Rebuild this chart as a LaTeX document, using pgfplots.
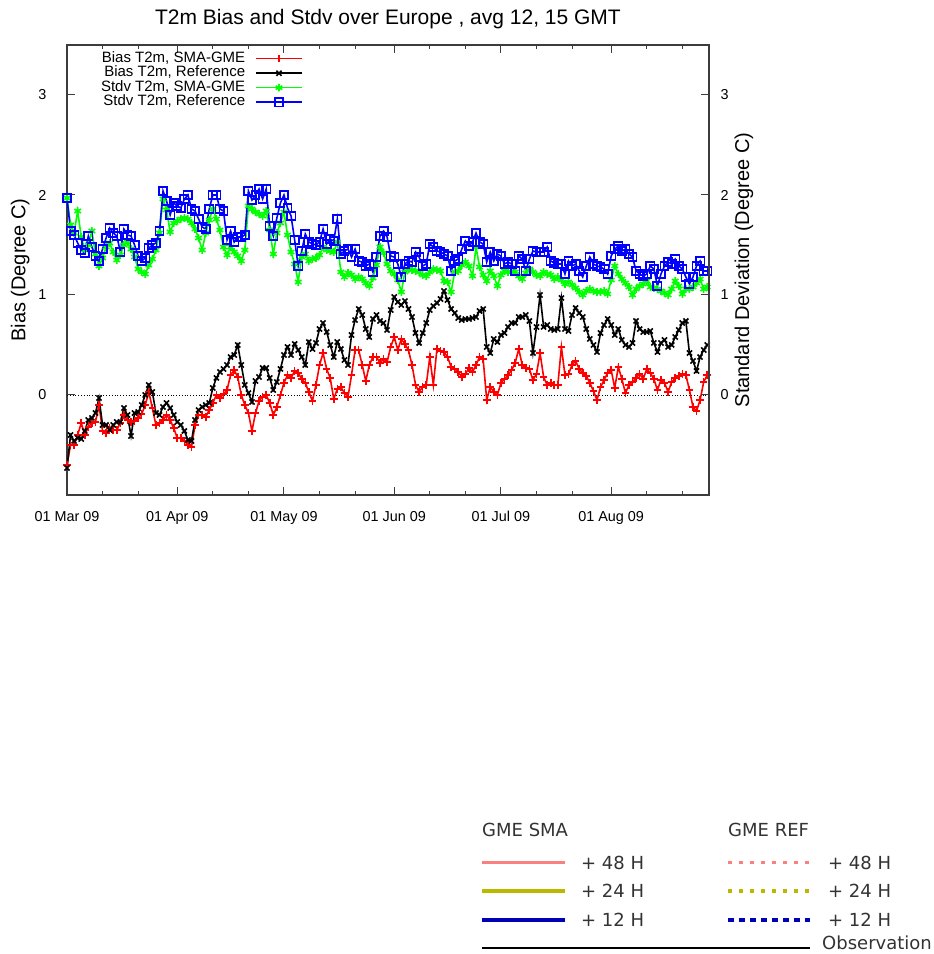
\documentclass[border=0pt]{standalone}
\usepackage{fontspec}
\setmainfont{Liberation Sans}
\newfontfamily\dejavu{DejaVu Sans}
\usepackage{pgfplots}
\usepackage{pgfplotstable}
\pgfplotsset{compat=1.18}
\definecolor{salmon}{RGB}{250,128,128}
\definecolor{olive2}{RGB}{185,185,0}
\definecolor{navy2}{RGB}{0,0,180}
\definecolor{axgray}{RGB}{60,60,60}

\pgfplotstableread{
d br bb sg sb
0 -0.70 -0.73 1.97 1.97
1 -0.50 -0.40 1.70 1.64
2 -0.50 -0.46 1.62 1.60
3 -0.40 -0.43 1.84 1.52
4 -0.28 -0.44 1.58 1.45
5 -0.40 -0.36 1.45 1.42
6 -0.32 -0.25 1.50 1.59
7 -0.28 -0.23 1.64 1.48
8 -0.27 -0.18 1.41 1.39
9 -0.10 -0.03 1.29 1.34
10 -0.36 -0.30 1.37 1.46
11 -0.38 -0.30 1.48 1.57
12 -0.33 -0.35 1.52 1.67
13 -0.35 -0.30 1.43 1.62
14 -0.35 -0.27 1.35 1.59
15 -0.28 -0.27 1.40 1.43
16 -0.20 -0.13 1.50 1.66
17 -0.25 -0.20 1.53 1.60
18 -0.27 -0.41 1.46 1.59
19 -0.26 -0.18 1.38 1.50
20 -0.23 -0.17 1.26 1.39
21 -0.19 -0.10 1.23 1.34
22 -0.10 0.00 1.21 1.37
23 0.03 0.10 1.30 1.47
24 -0.13 0.03 1.36 1.50
25 -0.30 -0.18 1.45 1.52
26 -0.28 -0.20 1.62 1.64
27 -0.25 -0.12 1.96 2.04
28 -0.20 -0.08 1.85 1.94
29 -0.25 -0.13 1.63 1.80
30 -0.33 -0.20 1.72 1.92
31 -0.43 -0.27 1.74 1.89
32 -0.43 -0.30 1.76 1.87
33 -0.46 -0.36 1.77 1.96
34 -0.50 -0.45 1.76 2.00
35 -0.52 -0.46 1.72 1.86
36 -0.30 -0.25 1.66 1.84
37 -0.20 -0.15 1.57 1.76
38 -0.20 -0.12 1.45 1.68
39 -0.22 -0.10 1.62 1.66
40 -0.15 -0.08 1.75 1.86
41 -0.08 0.07 1.86 2.00
42 0.00 0.17 1.76 2.00
43 -0.03 0.23 1.65 1.86
44 0.01 0.26 1.48 1.84
45 0.05 0.30 1.40 1.55
46 0.20 0.38 1.48 1.64
47 0.25 0.40 1.43 1.53
48 0.18 0.50 1.39 1.58
49 0.00 0.30 1.34 1.58
50 -0.10 0.10 1.45 1.60
51 -0.18 0.02 1.89 2.04
52 -0.36 -0.07 1.86 1.95
53 -0.18 0.14 1.83 2.00
54 -0.06 0.18 1.81 2.06
55 -0.02 0.27 1.79 1.96
56 0.00 0.27 1.84 2.06
57 -0.08 0.17 1.65 1.69
58 -0.20 0.05 1.41 1.59
59 -0.12 0.13 1.62 1.77
60 0.00 0.26 1.72 1.92
61 0.12 0.40 1.83 2.00
62 0.20 0.48 1.60 1.87
63 0.17 0.40 1.43 1.79
64 0.24 0.51 1.31 1.55
65 0.22 0.45 1.13 1.29
66 0.16 0.38 1.38 1.44
67 0.12 0.30 1.41 1.61
68 0.03 0.53 1.34 1.53
69 -0.06 0.46 1.36 1.51
70 0.10 0.52 1.37 1.50
71 0.30 0.66 1.40 1.53
72 0.42 0.72 1.48 1.66
73 0.26 0.63 1.45 1.51
74 0.17 0.50 1.44 1.56
75 -0.04 0.38 1.43 1.54
76 0.06 0.53 1.53 1.76
77 0.08 0.46 1.23 1.41
78 0.02 0.35 1.18 1.44
79 -0.02 0.30 1.22 1.46
80 0.20 0.60 1.20 1.38
81 0.45 0.75 1.16 1.46
82 0.45 0.86 1.18 1.34
83 0.30 0.80 1.16 1.33
84 0.14 0.66 1.12 1.29
85 0.30 0.58 1.09 1.31
86 0.38 0.76 1.17 1.23
87 0.38 0.80 1.30 1.38
88 0.32 0.74 1.48 1.59
89 0.36 0.72 1.42 1.64
90 0.33 0.65 1.31 1.58
91 0.48 0.85 1.24 1.39
92 0.58 0.98 1.21 1.38
93 0.45 0.93 1.15 1.31
94 0.56 0.90 1.03 1.18
95 0.51 0.94 1.23 1.31
96 0.45 0.86 1.26 1.34
97 0.30 0.78 1.25 1.33
98 0.10 0.62 1.24 1.43
99 0.03 0.52 1.23 1.38
100 0.08 0.62 1.20 1.29
101 0.10 0.72 1.19 1.31
102 0.38 0.85 1.23 1.51
103 0.10 0.89 1.26 1.48
104 0.46 0.92 1.25 1.44
105 0.44 0.96 1.24 1.43
106 0.43 1.04 1.14 1.41
107 0.38 0.95 1.13 1.39
108 0.28 0.86 1.03 1.24
109 0.26 0.82 1.23 1.34
110 0.23 0.77 1.24 1.36
111 0.18 0.75 1.30 1.46
112 0.21 0.76 1.33 1.54
113 0.27 0.76 1.29 1.49
114 0.23 0.77 1.19 1.53
115 0.30 0.78 1.48 1.62
116 0.38 0.84 1.28 1.53
117 0.36 0.86 1.20 1.51
118 -0.05 0.48 1.14 1.33
119 0.08 0.42 1.24 1.43
120 0.03 0.56 1.19 1.34
121 0.00 0.53 1.09 1.41
122 0.12 0.60 1.20 1.39
123 0.16 0.62 1.24 1.31
124 0.20 0.68 1.23 1.33
125 0.25 0.72 1.23 1.31
126 0.32 0.72 1.23 1.24
127 0.46 0.78 1.19 1.39
128 0.30 0.78 1.16 1.36
129 0.27 0.80 1.22 1.24
130 0.26 0.74 1.26 1.36
131 0.15 0.42 1.23 1.44
132 0.21 0.68 1.20 1.43
133 0.42 1.00 1.19 1.43
134 0.18 0.68 1.23 1.43
135 0.10 0.70 1.21 1.48
136 0.12 0.66 1.20 1.34
137 0.10 0.65 1.16 1.32
138 0.10 0.66 1.18 1.31
139 0.48 0.97 1.15 1.31
140 0.20 0.66 1.11 1.21
141 0.21 0.64 1.13 1.34
142 0.30 0.80 1.10 1.29
143 0.34 0.87 1.07 1.31
144 0.26 0.82 1.03 1.24
145 0.22 0.78 1.00 1.18
146 0.19 0.66 1.04 1.29
147 0.12 0.56 1.06 1.38
148 0.04 0.50 1.04 1.31
149 -0.05 0.43 1.03 1.29
150 0.08 0.62 1.03 1.28
151 0.15 0.70 1.04 1.26
152 0.22 0.76 1.01 1.21
153 0.25 0.70 1.15 1.39
154 0.07 0.60 1.29 1.46
155 0.28 0.66 1.21 1.49
156 0.16 0.55 1.16 1.44
157 0.02 0.50 1.12 1.46
158 0.10 0.48 1.08 1.41
159 0.13 0.52 1.00 1.38
160 0.17 0.74 1.06 1.24
161 0.21 0.66 1.09 1.21
162 0.16 0.63 1.11 1.19
163 0.26 0.63 1.14 1.21
164 0.22 0.64 1.08 1.29
165 0.16 0.52 1.07 1.26
166 0.05 0.43 1.06 1.09
167 0.15 0.52 1.04 1.21
168 0.12 0.55 1.02 1.29
169 0.03 0.48 1.00 1.33
170 0.13 0.50 1.06 1.31
171 0.17 0.58 1.14 1.36
172 0.19 0.65 1.09 1.29
173 0.21 0.72 1.01 1.26
174 0.20 0.74 1.06 1.18
175 0.05 0.42 1.06 1.11
176 -0.12 0.34 1.08 1.18
177 -0.16 0.24 1.12 1.29
178 -0.05 0.38 1.16 1.34
179 0.13 0.45 1.06 1.24
180 0.20 0.50 1.08 1.24
}\datatable

\begin{document}
\begin{tikzpicture}[x=1pt,y=1pt]
\fill[white] (0,0) rectangle (934,954);
\useasboundingbox (0,0) rectangle (934,954);
\node[anchor=base, font=\fontsize{21}{24}\selectfont, inner sep=0pt] at (388,929) {T2m Bias and Stdv over Europe , avg 12, 15 GMT};

\begin{axis}[
  at={(67pt,459pt)}, anchor=south west,
  scale only axis, width=642pt, height=450pt,
  xmin=0, xmax=180.5, ymin=-1, ymax=3.5,
  clip=false,
  axis line style={axgray, line width=1.3pt},
  tick align=inside,
  xtick pos=both, ytick pos=left,
  major tick length=8pt, minor tick length=4pt,
  every tick/.style={axgray, line width=1pt},
  xtick={0,31,61,92,122,153},
  xticklabels={01 Mar 09,01 Apr 09,01 May 09,01 Jun 09,01 Jul 09,01 Aug 09},
  minor xtick={10,20,41,51,71,81,102,112,132,142,163,173},
  ytick={0,1,2,3},
  ticklabel style={font=\fontsize{14.4}{16}\selectfont},
  /pgf/number format/assume math mode=true,
  xticklabel style={yshift=-13pt},
  yticklabel style={xshift=-17pt},
  ylabel={Bias (Degree C)},
  ylabel style={font=\fontsize{20}{24}\selectfont, at={(axis description cs:-0.073,0.5)}, anchor=center},
  legend style={at={(rel axis cs:0.3676,0.985)}, anchor=north east, draw=none, fill=none, inner sep=0pt,
    font=\fontsize{15}{16}\selectfont, row sep=1.0pt, column sep=10pt,
    nodes={inner sep=0pt, text height=10.5pt, text depth=3pt}},
  legend cell align=right, legend plot pos=right,
  legend image code/.code={\draw[mark repeat=2,mark phase=2,#1] plot coordinates {(0pt,0pt) (23pt,0pt) (46pt,0pt)};},
]
\addplot[black, dotted, line width=0.8pt, forget plot] coordinates {(0,0) (180.5,0)};
\addplot[red, line width=1.6pt, mark=+, mark size=3.8pt, mark options={solid, line width=1.6pt}] table[x=d,y=br]{\datatable};
\addlegendentry{Bias T2m, SMA-GME}
\addplot[black, line width=1.6pt, mark=x, mark size=3.6pt, mark options={solid, line width=1.6pt}] table[x=d,y=bb]{\datatable};
\addlegendentry{Bias T2m, Reference}
\addplot[green, line width=1.6pt, mark=asterisk, mark size=3.8pt, mark options={solid, line width=1.6pt}] table[x=d,y=sg]{\datatable};
\addlegendentry{Stdv T2m, SMA-GME}
\addplot[blue, line width=1.6pt, mark=square, mark size=4.2pt, mark options={solid, line width=1.5pt}] table[x=d,y=sb]{\datatable};
\addlegendentry{Stdv T2m, Reference}
\end{axis}

\begin{axis}[
  at={(67pt,459pt)}, anchor=south west,
  scale only axis, width=642pt, height=450pt,
  xmin=0, xmax=180.5, ymin=-1, ymax=3.5,
  axis x line=none, axis y line*=right,
  axis line style={axgray, line width=1.3pt},
  tick align=inside, major tick length=8pt,
  every tick/.style={axgray, line width=1pt},
  ytick={0,1,2,3},
  ticklabel style={font=\fontsize{14.4}{16}\selectfont},
  /pgf/number format/assume math mode=true,
  yticklabel style={xshift=8pt},
  ylabel={Standard Deviation (Degree C)},
  ylabel style={font=\fontsize{20}{24}\selectfont, at={(axis description cs:1.0545,0.5)}, anchor=center},
]
\addplot[draw=none, forget plot] coordinates {(0,0)};
\end{axis}

\begin{scope}[every node/.style={inner sep=0pt, anchor=base west, text=black!80, font=\dejavu\fontsize{18}{20}\selectfont}]
\node at (482,117.5) {GME SMA};
\node at (728,117.5) {GME REF};
\draw[salmon, line width=3pt] (482,91.3) -- (565,91.3);
\draw[olive2, line width=3.5pt] (482,63) -- (565,63);
\draw[navy2, line width=4.5pt] (482,34) -- (565,34);
\node at (581,84.8) {+ 48 H};
\node at (581,56.5) {+ 24 H};
\node at (581,27.5) {+ 12 H};
\draw[salmon, line width=3pt, dash pattern=on 4pt off 7pt] (728,91.3) -- (810,91.3);
\draw[olive2, line width=3.5pt, dash pattern=on 4pt off 7pt] (728,63) -- (810,63);
\draw[navy2, line width=4.5pt, dash pattern=on 6pt off 5pt] (728,34) -- (810,34);
\node at (828,84.8) {+ 48 H};
\node at (828,56.5) {+ 24 H};
\node at (828,27.5) {+ 12 H};
\draw[black, line width=1.5pt] (482,6) -- (810,6);
\node at (822,4.5) {Observation};
\end{scope}
\end{tikzpicture}
\end{document}
